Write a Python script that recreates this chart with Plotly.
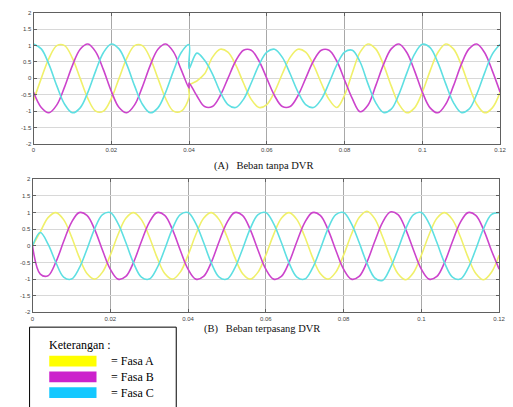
import plotly.graph_objects as go

# ---------------- data ----------------
# time samples in milliseconds; top panel has a duplicated 40 ms sample (step at sag start)
t_top_ms = [0, 2, 4, 6, 8, 10, 12, 14, 16, 18, 20, 22, 24, 26, 28, 30, 32, 34, 36, 38, 40,
            40, 42, 44, 46, 48, 50, 52, 54, 56, 58, 60, 62, 64, 66, 68, 70, 72, 74, 76, 78, 80,
            82, 84, 86, 88, 90, 92, 94, 96, 98, 100, 102, 104, 106, 108, 110, 112, 114, 116, 118, 120]

top_fasa_a = [-0.68, 0.0, 0.62, 1.0, 1.0, 0.62, 0.0, -0.62, -1.0, -1.0, -0.62, 0.0, 0.62, 1.0, 1.0, 0.62, 0.0, -0.62, -1.0, -1.0, -0.58,
              -0.22, -0.08, 0.14, 0.64, 0.89, 0.80, 0.41, -0.14, -0.64, -0.89, -0.80, -0.41, 0.14, 0.64, 0.89, 0.80, 0.41, -0.14, -0.64, -0.89, -0.51,
              0.17, 0.80, 1.05, 0.90, 0.42, -0.23, -0.79, -1.05, -0.90, -0.42, 0.23, 0.79, 1.05, 0.90, 0.42, -0.23, -0.79, -1.05, -0.90, -0.42]

top_fasa_b = [-0.42, -0.89, -1.05, -0.81, -0.26, 0.39, 0.89, 1.05, 0.81, 0.26, -0.39, -0.89, -1.05, -0.81, -0.26, 0.39, 0.89, 1.05, 0.81, 0.26, -0.30,
              -0.14, -0.53, -0.86, -0.86, -0.53, 0.0, 0.53, 0.86, 0.86, 0.53, 0.0, -0.53, -0.86, -0.86, -0.53, 0.0, 0.53, 0.86, 0.86, 0.53, -0.05,
              -0.62, -1.02, -0.82, -0.23, 0.42, 0.90, 1.05, 0.79, 0.23, -0.42, -0.90, -1.05, -0.79, -0.23, 0.42, 0.90, 1.05, 0.79, 0.23, -0.42]

top_fasa_c = [1.05, 0.90, 0.42, -0.23, -0.79, -1.05, -0.90, -0.42, 0.23, 0.79, 1.05, 0.90, 0.42, -0.23, -0.79, -1.05, -0.90, -0.42, 0.23, 0.79, 1.03,
              0.30, 0.77, 0.55, 0.14, -0.41, -0.80, -0.89, -0.64, -0.14, 0.41, 0.80, 0.89, 0.64, 0.14, -0.41, -0.80, -0.89, -0.64, -0.14, 0.41, 0.80,
              0.86, 0.50, -0.16, -0.74, -1.04, -0.94, -0.48, 0.16, 0.74, 1.04, 0.94, 0.48, -0.16, -0.74, -1.04, -0.94, -0.48, 0.16, 0.74, 1.04]

t_bot_ms = [0, 2, 4, 6, 8, 10, 12, 14, 16, 18, 20, 22, 24, 26, 28, 30, 32, 34, 36, 38, 40,
            42, 44, 46, 48, 50, 52, 54, 56, 58, 60, 62, 64, 66, 68, 70, 72, 74, 76, 78, 80,
            82, 84, 86, 88, 90, 92, 94, 96, 98, 100, 102, 104, 106, 108, 110, 112, 114, 116, 118, 120]

bot_fasa_a = [0.0, 0.42, 0.85, 1.0, 0.79, 0.28, -0.34, -0.83, -1.0, -0.79, -0.28, 0.34, 0.83, 1.0, 0.79, 0.28, -0.34, -0.83, -1.0, -0.79, -0.28,
              0.34, 0.83, 1.0, 0.79, 0.28, -0.34, -0.83, -1.0, -0.79, -0.28, 0.34, 0.83, 1.0, 0.79, 0.28, -0.34, -0.83, -1.0, -0.79, -0.28,
              0.34, 0.85, 1.04, 0.82, 0.28, -0.34, -0.84, -1.02, -0.80, -0.28, 0.34, 0.83, 1.0, 0.79, 0.28, -0.34, -0.83, -1.02, -0.80, -0.28]

bot_fasa_b = [0.0, -0.85, -0.90, -0.49, 0.13, 0.70, 1.0, 0.92, 0.49, -0.13, -0.70, -1.0, -0.92, -0.49, 0.13, 0.70, 1.0, 0.92, 0.49, -0.13, -0.70,
              -1.0, -0.92, -0.49, 0.13, 0.70, 1.0, 0.92, 0.49, -0.13, -0.70, -1.0, -0.92, -0.49, 0.13, 0.70, 1.0, 0.92, 0.49, -0.13, -0.70,
              -1.0, -0.92, -0.49, 0.13, 0.70, 1.02, 0.94, 0.49, -0.13, -0.70, -1.0, -0.92, -0.49, 0.13, 0.70, 1.0, 0.92, 0.49, -0.13, -0.70]

bot_fasa_c = [0.0, 0.40, 0.05, -0.50, -0.94, -1.0, -0.67, -0.10, 0.52, 0.94, 1.0, 0.67, 0.10, -0.52, -0.94, -1.0, -0.67, -0.10, 0.52, 0.94, 1.0,
              0.67, 0.10, -0.52, -0.94, -1.0, -0.67, -0.10, 0.52, 0.94, 1.0, 0.67, 0.10, -0.52, -0.94, -1.0, -0.67, -0.10, 0.52, 0.94, 1.0,
              0.67, 0.10, -0.52, -0.96, -1.04, -0.67, -0.10, 0.52, 0.94, 1.0, 0.67, 0.10, -0.52, -0.94, -1.0, -0.67, -0.10, 0.52, 0.94, 1.0]

x_tick_vals = [0, 0.02, 0.04, 0.06, 0.08, 0.1, 0.12]
x_tick_text = ["0", "0.02", "0.04", "0.06", "0.08", "0.1", "0.12"]
y_tick_vals = [-2, -1.5, -1, -0.5, 0, 0.5, 1, 1.5, 2]
y_tick_text = ["-2", "-1.5", "-1", "-0.5", "0", "0.5", "1", "1.5", "2"]

caption_a = "(A)\u00a0\u00a0 Beban tanpa DVR"
caption_b = "(B)\u00a0\u00a0 Beban terpasang DVR"
legend_title = "Keterangan :"
legend_labels = ["= Fasa A", "= Fasa B", "= Fasa C"]

line_colors = ["#f0f06a", "#cc44cc", "#5edfe2"]
swatch_colors = ["#ffff00", "#cc22cc", "#14c8ff"]

# ---------------- figure ----------------
W, H = 513, 407


def px(x):
    return x / W


def py(y):
    return 1 - y / H


fig = go.Figure()

t_top = [t / 1000 for t in t_top_ms]
t_bot = [t / 1000 for t in t_bot_ms]

for series, col in zip([top_fasa_a, top_fasa_b, top_fasa_c], line_colors):
    fig.add_trace(go.Scatter(x=t_top, y=series, mode="lines", xaxis="x", yaxis="y",
                             line=dict(color=col, width=1.6, shape="spline"),
                             showlegend=False, hoverinfo="skip"))

for series, col in zip([bot_fasa_a, bot_fasa_b, bot_fasa_c], line_colors):
    fig.add_trace(go.Scatter(x=t_bot, y=series, mode="lines", xaxis="x2", yaxis="y2",
                             line=dict(color=col, width=1.6, shape="spline"),
                             showlegend=False, hoverinfo="skip"))

tickfont = dict(family="Liberation Sans", size=6, color="#444444")
xcommon = dict(range=[0, 0.12], tickvals=x_tick_vals, ticktext=x_tick_text,
               showline=True, linecolor="#606060", linewidth=1, mirror="ticks",
               ticks="inside", ticklen=3, tickcolor="#606060",
               showgrid=True, gridcolor="#a8a8a8", gridwidth=1, zeroline=False,
               tickfont=tickfont, fixedrange=True)
ycommon = dict(range=[-2, 2], tickvals=y_tick_vals, ticktext=y_tick_text,
               showline=True, linecolor="#606060", linewidth=1, mirror="ticks",
               ticks="inside", ticklen=3, tickcolor="#606060",
               showgrid=True, gridcolor="#d8d8d8", gridwidth=1, zeroline=False,
               tickfont=tickfont, fixedrange=True)

fig.update_layout(
    width=W, height=H,
    margin=dict(l=0, r=0, t=0, b=0),
    paper_bgcolor="white", plot_bgcolor="white",
    xaxis=dict(xcommon, domain=[px(32), px(506)], anchor="y"),
    yaxis=dict(ycommon, domain=[py(143), py(10)], anchor="x"),
    xaxis2=dict(xcommon, domain=[px(31), px(505)], anchor="y2"),
    yaxis2=dict(ycommon, domain=[py(314), py(179)], anchor="x2"),
)

serif = "Liberation Serif"
fig.add_annotation(text=caption_a, x=px(266), y=py(165), xref="paper", yref="paper",
                   showarrow=False, font=dict(family=serif, size=10.5, color="#111111"),
                   xanchor="center", yanchor="middle")
fig.add_annotation(text=caption_b, x=px(264), y=py(331), xref="paper", yref="paper",
                   showarrow=False, font=dict(family=serif, size=10.5, color="#111111"),
                   xanchor="center", yanchor="middle")

# legend box
fig.add_shape(type="rect", xref="paper", yref="paper", x0=px(28), x1=px(177), y0=py(412), y1=py(329),
              line=dict(color="black", width=1), fillcolor="white", layer="above")
fig.add_annotation(text=legend_title, x=px(46), y=py(347), xref="paper", yref="paper",
                   showarrow=False, font=dict(family=serif, size=12, color="black"),
                   xanchor="left", yanchor="middle")
sw_tops = [358, 374, 390]
for top, col, lab in zip(sw_tops, swatch_colors, legend_labels):
    fig.add_shape(type="rect", xref="paper", yref="paper", x0=px(48), x1=px(96),
                  y0=py(top + 11), y1=py(top), line=dict(width=0), fillcolor=col, layer="above")
    fig.add_annotation(text=lab, x=px(109), y=py(top + 5.5), xref="paper", yref="paper",
                       showarrow=False, font=dict(family=serif, size=12, color="black"),
                       xanchor="left", yanchor="middle")

fig.write_html("out.html")
